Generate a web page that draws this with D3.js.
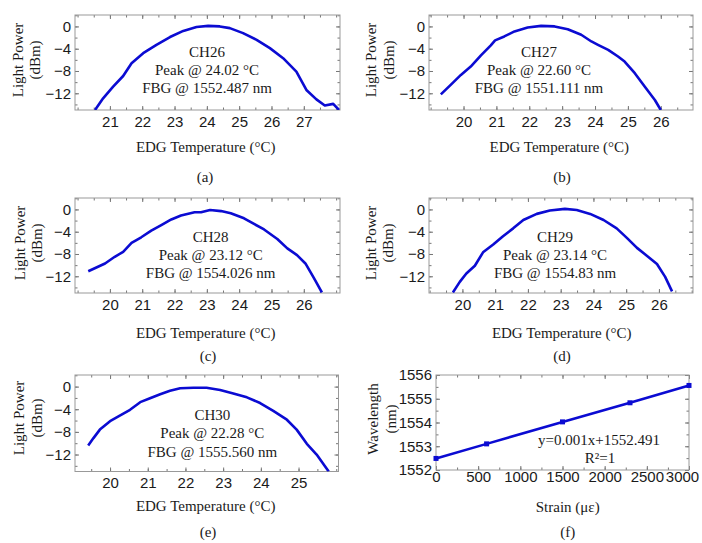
<!DOCTYPE html>
<html>
<head>
<meta charset="utf-8">
<script src="https://cdn.jsdelivr.net/npm/d3@7"></script>
<style>
  body { margin: 0; background: #fff; }
  svg { font-family: "Liberation Serif", "Times New Roman", serif; }
  .tick text { font-size: 15px; fill: #1a1a1a; }
  .tick line { stroke: #777; }
</style>
</head>
<body>
<svg id="fig" width="702" height="543"></svg>
<script>
// Light power vs EDG temperature, one curve per channel
const ch26Temp = [20.54, 20.79, 21.1, 21.41, 21.67, 22.03, 22.44, 22.86, 23.27, 23.68, 24.04, 24.4, 24.71, 25.12, 25.54, 25.95, 26.36, 26.77, 27.08, 27.39, 27.65, 27.91, 28.09];
const ch26Power = [-15, -12.9, -10.8, -8.9, -6.6, -4.8, -3.3, -1.9, -0.8, -0.1, 0.1, 0, -0.3, -1.2, -2.4, -3.9, -5.7, -8.1, -11.4, -13.1, -14.2, -13.9, -15];

const ch27Temp = [19.31, 19.61, 19.92, 20.22, 20.53, 20.83, 20.96, 21.24, 21.55, 21.95, 22.36, 22.77, 23.17, 23.58, 23.89, 24.09, 24.4, 24.7, 24.9, 25.21, 25.51, 25.82, 26.0];
const ch27Power = [-12.2, -10.5, -8.7, -7.2, -5.2, -3.4, -2.5, -1.8, -0.9, -0.2, 0.1, 0, -0.5, -1.5, -2.7, -3.3, -4.2, -5.4, -6.3, -8.4, -10.8, -13.2, -15];

const ch28Temp = [19.33, 19.85, 20.15, 20.41, 20.67, 20.97, 21.28, 21.59, 21.9, 22.2, 22.62, 22.82, 23.1, 23.44, 23.74, 24.15, 24.46, 24.77, 25.18, 25.49, 25.79, 26.05, 26.31, 26.56];
const ch28Power = [-11.1, -9.7, -8.5, -7.6, -6.0, -5.0, -3.8, -2.8, -1.8, -1.1, -0.5, -0.5, -0.1, -0.3, -0.7, -1.6, -2.6, -3.6, -5.3, -7.0, -8.2, -9.7, -12.3, -14.9];

const ch29Temp = [19.71, 19.92, 20.12, 20.38, 20.63, 20.94, 21.24, 21.55, 21.86, 22.27, 22.67, 23.13, 23.49, 23.9, 24.31, 24.71, 25.02, 25.33, 25.63, 25.94, 26.19, 26.4];
const ch29Power = [-14.9, -13.0, -11.5, -10.1, -7.7, -6.3, -4.8, -3.4, -1.9, -0.8, -0.2, 0.1, -0.1, -0.8, -1.9, -3.4, -5.1, -6.9, -8.3, -9.8, -12.1, -14.7];

const ch30Temp = [19.42, 19.56, 19.73, 20.0, 20.27, 20.53, 20.8, 21.06, 21.33, 21.59, 21.86, 22.21, 22.56, 22.92, 23.27, 23.63, 23.98, 24.33, 24.69, 24.95, 25.22, 25.48, 25.8];
const ch30Power = [-10.4, -9.1, -7.6, -6.1, -5.1, -4.1, -2.75, -2.05, -1.35, -0.75, -0.3, -0.2, -0.2, -0.6, -1.2, -1.9, -2.9, -4.3, -5.85, -7.6, -10.1, -12.0, -15];

// wavelength vs strain (panel f)
const strain = [0, 600, 1500, 2300, 3000];
const wavelength = [1552.487, 1553.1, 1554.026, 1554.83, 1555.56];

// tick values
const powerTicks = [-12, -8, -4, 0];
const powerMinor = [-14, -12, -10, -8, -6, -4, -2, 0, 2];
const strainTicks = [0, 500, 1000, 1500, 2000, 2500, 3000];
const wavelengthTicks = [1552, 1553, 1554, 1555, 1556];

const notes = [
    ["CH26", "Peak @ 24.02 °C", "FBG @ 1552.487 nm"],
    ["CH27", "Peak @ 22.60 °C", "FBG @ 1551.111 nm"],
    ["CH28", "Peak @ 23.12 °C", "FBG @ 1554.026 nm"],
    ["CH29", "Peak @ 23.14 °C", "FBG @ 1554.83 nm"],
    ["CH30", "Peak @ 22.28 °C", "FBG @ 1555.560 nm"]
];

const blue = "#0b0bd2";
const svg = d3.select("#fig");

function range(a, b, step) {
    let out = [];
    for (let v = a; v <= b + 1e-9; v += step) out.push(+v.toFixed(3));
    return out;
}

// box, inward ticks on all four sides, tick labels left and bottom
function drawFrame(g, x, y, w, h, xMajor, xMinor, yMajor, yMinor, xPad) {
    g.append("g").attr("transform", `translate(0,${h})`)
        .call(d3.axisBottom(x).tickValues(xMinor).tickSize(-2.5).tickFormat(""));
    g.append("g")
        .call(d3.axisTop(x).tickValues(xMinor).tickSize(-2.5).tickFormat(""));
    g.append("g")
        .call(d3.axisLeft(y).tickValues(yMinor).tickSize(-2.5).tickFormat(""));
    g.append("g").attr("transform", `translate(${w},0)`)
        .call(d3.axisRight(y).tickValues(yMinor).tickSize(-2.5).tickFormat(""));

    let bottom = g.append("g").attr("class", "xlabels").attr("transform", `translate(0,${h})`)
        .call(d3.axisBottom(x).tickValues(xMajor).tickSize(-4).tickPadding(xPad).tickFormat(d3.format("d")));
    g.append("g")
        .call(d3.axisTop(x).tickValues(xMajor).tickSize(-4).tickFormat(""));
    g.append("g")
        .call(d3.axisLeft(y).tickValues(yMajor).tickSize(-4).tickPadding(4).tickFormat(d3.format("d")));
    g.append("g").attr("transform", `translate(${w},0)`)
        .call(d3.axisRight(y).tickValues(yMajor).tickSize(-4).tickFormat(""));

    g.selectAll(".domain").remove();
    g.selectAll(".tick text").filter(function () { return this.textContent === ""; }).remove();
    g.append("rect").attr("width", w).attr("height", h)
        .attr("fill", "none").attr("stroke", "#999").attr("stroke-width", 1);
    return bottom;
}

function label(txt, x, y, rotate) {
    let t = svg.append("text").text(txt)
        .attr("text-anchor", "middle")
        .attr("dominant-baseline", "central")
        .attr("font-size", 15)
        .attr("fill", "#1a1a1a");
    if (rotate) t.attr("transform", `translate(${x},${y}) rotate(-90)`);
    else t.attr("x", x).attr("y", y);
    return t;
}

const tempPanels = [
    { temp: ch26Temp, power: ch26Power, box: [75, 15, 265, 95], xd: [19.92, 28.12], xt: range(21, 27, 1),
      note: [207, 51.7], xl: [205.7, 146.7], yl: [18.3, 35, 60], tag: ["(a)", 205, 177] },
    { temp: ch27Temp, power: ch27Power, box: [429, 15, 264, 95], xd: [18.95, 26.98], xt: range(20, 26, 1),
      note: [539, 51.7], xl: [559.3, 146.7], yl: [371, 389, 60], tag: ["(b)", 562, 177] },
    { temp: ch28Temp, power: ch28Power, box: [75, 198, 265, 95], xd: [18.92, 27.12], xt: range(20, 26, 1),
      note: [210.7, 236.7], xl: [205.7, 333.3], yl: [20, 36.7, 243], tag: ["(c)", 208, 355.7] },
    { temp: ch29Temp, power: ch29Power, box: [429, 198, 264, 95], xd: [18.98, 27.04], xt: range(20, 26, 1),
      note: [555, 236.7], xl: [561.7, 333.3], yl: [371, 387.7, 243], tag: ["(d)", 562, 355.7] },
    { temp: ch30Temp, power: ch30Power, box: [75, 375, 263.5, 96.5], xd: [19.07, 26.06], xt: range(20, 25, 1),
      note: [212.3, 415], xl: [205.7, 506], yl: [19.3, 36.7, 418], tag: ["(e)", 208, 531.7] }
];

tempPanels.forEach((p, i) => {
    const [bx, by, w, h] = p.box;
    const x = d3.scaleLinear().domain(p.xd).range([0, w]);
    const y = d3.scaleLinear().domain([-15, 2.05]).range([h, 0]);
    const g = svg.append("g").attr("transform", `translate(${bx},${by})`);

    g.append("clipPath").attr("id", "clip" + i)
        .append("rect").attr("width", w).attr("height", h);

    drawFrame(g, x, y, w, h, p.xt, range(p.xd[0] - (p.xd[0] % 0.5) + 0.5, p.xd[1], 0.5),
        powerTicks, powerMinor.filter(v => v <= 2.05), 6);

    const pts = p.temp.map((t, k) => [t, p.power[k]]);
    g.append("path")
        .datum(pts)
        .attr("clip-path", `url(#clip${i})`)
        .attr("fill", "none")
        .attr("stroke", blue)
        .attr("stroke-width", 2.6)
        .attr("stroke-linejoin", "round")
        .attr("d", d3.line().x(d => x(d[0])).y(d => y(d[1])));

    notes[i].forEach((line, k) => label(line, p.note[0], p.note[1] + k * 18.3));
    label("EDG Temperature (°C)", p.xl[0], p.xl[1]);
    label("Light Power", p.yl[0], p.yl[2], true);
    label("(dBm)", p.yl[1], p.yl[2], true);
    label(p.tag[0], p.tag[1], p.tag[2]);
});

// panel f: wavelength vs strain
{
    const bx = 436, by = 375, w = 253, h = 95;
    const x = d3.scaleLinear().domain([0, 3000]).range([0, w]);
    const y = d3.scaleLinear().domain([1552, 1556]).range([h, 0]);
    const g = svg.append("g").attr("transform", `translate(${bx},${by})`);

    const bottom = drawFrame(g, x, y, w, h, strainTicks, range(0, 3000, 250),
        wavelengthTicks, range(1552, 1556, 0.5), 1);
    // last label pulled in so it stays on the page
    bottom.selectAll(".tick text").filter(d => d === 3000).attr("dx", -7);

    const pts = strain.map((s, k) => [s, wavelength[k]]);
    g.append("path")
        .datum(pts)
        .attr("fill", "none")
        .attr("stroke", blue)
        .attr("stroke-width", 2.6)
        .attr("d", d3.line().x(d => x(d[0])).y(d => y(d[1])));
    g.selectAll("rect.pt")
        .data(pts)
        .enter()
        .append("rect")
        .attr("class", "pt")
        .attr("x", d => x(d[0]) - 2.5)
        .attr("y", d => y(d[1]) - 2.5)
        .attr("width", 5)
        .attr("height", 5)
        .attr("fill", blue);

    label("y=0.001x+1552.491", 599, 440);
    label("R²=1", 600, 458.3);
    label("Strain (με)", 567.7, 506.7);
    label("Wavelength", 372.7, 419, true);
    label("(nm)", 391, 419, true);
    label("(f)", 567.7, 531.7);
}
</script>
</body>
</html>
